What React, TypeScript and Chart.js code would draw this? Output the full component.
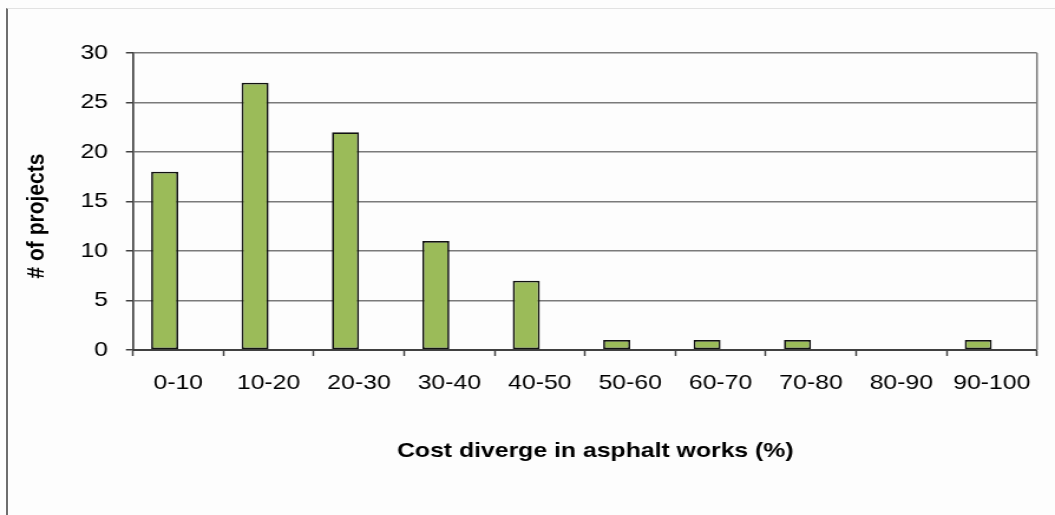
import { useEffect, useRef } from 'react';
import { Chart, registerables } from 'chart.js';

Chart.register(...registerables);

// Cost divergence classes (%) and number of projects in each
const categories = ['0-10', '10-20', '20-30', '30-40', '40-50', '50-60', '60-70', '70-80', '80-90', '90-100'];
const projectCounts = [18, 27, 22, 11, 7, 1, 1, 1, 0, 1];
// second (empty) series keeps the bars in the left half of each category slot
const secondSeries: (number | null)[] = [null, null, null, null, null, null, null, null, null, null];

const yMin = 0;
const yMax = 30;
const yStep = 5;

const xTitle = '   Cost diverge in asphalt works (%)';
const yTitle = '# of projects     ';

// the chart is laid out on a narrower canvas and widened horizontally
const PAGE_W = 1055;
const CANVAS_W = 894;
const CANVAS_H = 515;
const STRETCH = PAGE_W / CANVAS_W;

const FONT = '"Liberation Sans", Arial, sans-serif';
const GRID = '#7a7a7a';
const AXIS = '#404040';

const plotRightBorder = {
  id: 'plotRightBorder',
  beforeDatasetsDraw(chart: Chart) {
    const { ctx, chartArea } = chart;
    ctx.save();
    ctx.strokeStyle = GRID;
    ctx.lineWidth = 1.5;
    ctx.beginPath();
    ctx.moveTo(chartArea.right, chartArea.top);
    ctx.lineTo(chartArea.right, chartArea.bottom);
    ctx.stroke();
    ctx.restore();
  },
};

export default function App() {
  const canvasRef = useRef<HTMLCanvasElement | null>(null);

  useEffect(() => {
    const canvas = canvasRef.current;
    if (!canvas) return;
    const chart = new Chart(canvas, {
      type: 'bar',
      data: {
        labels: categories,
        datasets: [
          {
            data: projectCounts,
            backgroundColor: '#9bbb59',
            borderColor: '#111111',
            borderWidth: 1.7,
            borderSkipped: false,
            barPercentage: 1,
            categoryPercentage: 0.598,
          },
          {
            data: secondSeries,
            backgroundColor: '#c0504d',
            borderColor: '#111111',
            borderWidth: 1.7,
            barPercentage: 1,
            categoryPercentage: 0.598,
          },
        ],
      },
      options: {
        responsive: false,
        animation: false,
        devicePixelRatio: 1,
        layout: { padding: { left: 0, right: 15.3, top: 53, bottom: 0 } },
        plugins: {
          legend: { display: false },
          tooltip: { enabled: false },
        },
        scales: {
          x: {
            offset: true,
            grid: {
              offset: true,
              drawOnChartArea: false,
              drawTicks: true,
              tickLength: 6,
              tickColor: AXIS,
              tickWidth: 1.5,
            },
            border: { display: true, color: AXIS, width: 2 },
            ticks: {
              color: '#000000',
              padding: 14.4,
              maxRotation: 0,
              autoSkip: false,
              font: { family: FONT, size: 21 },
            },
            title: {
              display: true,
              text: xTitle,
              color: '#000000',
              font: { family: FONT, size: 21, weight: 'bold' },
              padding: { top: 0, bottom: 51.4 },
            },
            afterFit(scale: any) {
              scale.height = 165;
            },
          },
          y: {
            min: yMin,
            max: yMax,
            grid: {
              color: GRID,
              lineWidth: 1.5,
              drawTicks: true,
              tickLength: 6,
              tickColor: AXIS,
              tickWidth: 1.5,
            },
            border: { display: true, color: AXIS, width: 1.7 },
            ticks: {
              stepSize: yStep,
              color: '#000000',
              padding: 15.2,
              font: { family: FONT, size: 21 },
            },
            title: {
              display: true,
              text: yTitle,
              color: '#000000',
              font: { family: FONT, size: 21, weight: 'bold' },
              padding: { top: 18.75, bottom: 0 },
            },
            afterFit(scale: any) {
              scale.width = 112.7;
            },
          },
        },
      },
      plugins: [plotRightBorder],
    });
    return () => chart.destroy();
  }, []);

  return (
    <div style={{ position: 'absolute', left: 0, top: 0, width: PAGE_W, height: CANVAS_H, background: '#fdfdfd', overflow: 'hidden' }}>
      <div
        style={{
          position: 'absolute',
          left: 0,
          top: 0,
          width: CANVAS_W,
          height: CANVAS_H,
          transform: `scaleX(${STRETCH})`,
          transformOrigin: '0 0',
        }}
      >
        <canvas ref={canvasRef} width={CANVAS_W} height={CANVAS_H} style={{ display: 'block' }} />
      </div>
      <div
        style={{
          position: 'absolute',
          left: 6,
          top: 8,
          width: PAGE_W - 6,
          height: CANVAS_H - 8,
          borderLeft: '2px solid #6e6e6e',
          borderTop: '1px solid #e2e2e2',
          boxSizing: 'border-box',
          pointerEvents: 'none',
        }}
      />
    </div>
  );
}
